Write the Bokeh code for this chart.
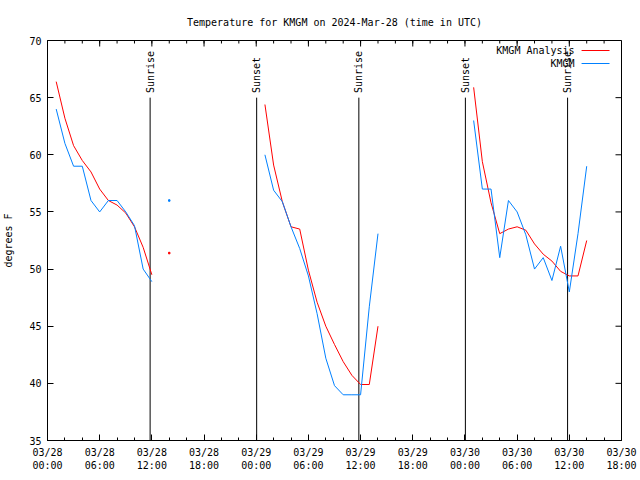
import math
from bokeh.plotting import figure
from bokeh.models import FixedTicker, Label, Range1d
from bokeh.embed import file_html
from bokeh.resources import INLINE

TITLE = "Temperature for KMGM on 2024-Mar-28 (time in UTC)"
FONT = "DejaVu Sans Mono"

# x values are hours since 2024-03-28 00:00 UTC
seg1_hours = [1, 2, 3, 4, 5, 6, 7, 8, 9, 10, 11, 12]
seg1_analysis = [66.4, 63.2, 60.8, 59.5, 58.5, 57.0, 56.0, 55.6, 54.9, 53.7, 51.9, 49.5]
seg1_obs = [64, 61, 59, 59, 56, 55, 56, 56, 55, 53.8, 50, 48.9]

lone_hours = [14]
lone_analysis = [51.4]
lone_obs = [56]

seg2_hours = [25, 26, 27, 28, 29, 30, 31, 32, 33, 34, 35, 36, 37, 38]
seg2_analysis = [64.4, 59.1, 55.9, 53.7, 53.5, 49.9, 47.1, 45.0, 43.4, 41.9, 40.7, 39.9, 39.9, 45.0]
seg2_obs = [60, 56.9, 55.9, 53.7, 51.8, 49.4, 46.1, 42.2, 39.8, 39, 39, 39, 46.7, 53.1]

seg3_hours = [49, 50, 51, 52, 53, 54, 55, 56, 57, 58, 59, 60, 61, 62]
seg3_analysis = [65.9, 59.4, 55.8, 53.1, 53.5, 53.7, 53.4, 52.2, 51.3, 50.7, 49.8, 49.4, 49.4, 52.5]
seg3_obs = [63, 57, 57, 51, 56, 55, 53, 50, 51, 49, 52, 48, 53.1, 59]

event_hours = [11.8, 24.05, 35.8, 48.05, 59.8]
event_names = ["Sunrise", "Sunset", "Sunrise", "Sunset", "Sunrise"]

x_ticks = [0, 6, 12, 18, 24, 30, 36, 42, 48, 54, 60, 66]
x_tick_labels = ["03/28\n00:00", "03/28\n06:00", "03/28\n12:00", "03/28\n18:00",
                 "03/29\n00:00", "03/29\n06:00", "03/29\n12:00", "03/29\n18:00",
                 "03/30\n00:00", "03/30\n06:00", "03/30\n12:00", "03/30\n18:00"]
x_minor = list(range(0, 67, 2))
y_ticks = [35, 40, 45, 50, 55, 60, 65, 70]

series_names = ["KMGM Analysis", "KMGM"]
series_colors = ["#ff0000", "#0080ff"]

XR, YR = (0, 66), (35, 70)
FW, FH = 575.0, 400.0   # frame size in px
FL, FB = 46, 440         # frame left / bottom in page px

p = figure(width=640, height=480, x_range=Range1d(*XR), y_range=Range1d(*YR),
           output_backend="svg", toolbar_location=None, title=TITLE,
           min_border_left=FL, min_border_right=640 - FL - int(FW),
           min_border_top=40, min_border_bottom=40)
p.title.text_font = FONT
p.title.text_font_size = "10px"
p.title.text_font_style = "normal"
p.title.text_color = "black"
p.title.align = "center"
p.title.standoff = 25
p.xgrid.visible = False
p.ygrid.visible = False
p.outline_line_color = "black"
p.outline_line_alpha = 1.0
p.background_fill_color = "white"
p.border_fill_color = "white"

xa = p.xaxis[0]
xa.ticker = FixedTicker(ticks=x_ticks, minor_ticks=x_minor)
xa.major_label_overrides = {t: l for t, l in zip(x_ticks, x_tick_labels)}
ya = p.yaxis[0]
ya.ticker = FixedTicker(ticks=y_ticks, minor_ticks=[])
ya.axis_label = "degrees F"
ya.axis_label_standoff = 12
for ax in (xa, ya):
    ax.major_label_text_font = FONT
    ax.major_label_text_font_size = "10px"
    ax.major_label_text_color = "black"
    ax.axis_label_text_font = FONT
    ax.axis_label_text_font_size = "10px"
    ax.axis_label_text_font_style = "normal"
    ax.axis_label_text_color = "black"
    ax.major_tick_in = 6
    ax.major_tick_out = 0
    ax.minor_tick_in = 3
    ax.minor_tick_out = 0
    ax.major_label_standoff = 6
    ax.axis_line_color = "black"

# mirrored ticks on the top and right borders (gnuplot style)
dx_px = (XR[1] - XR[0]) / FW
dy_px = (YR[1] - YR[0]) / FH
p.segment(x0=x_ticks, y0=[YR[1]] * len(x_ticks), x1=x_ticks,
          y1=[YR[1] - 6 * dy_px] * len(x_ticks), line_color="black", line_width=1)
p.segment(x0=x_minor, y0=[YR[1]] * len(x_minor), x1=x_minor,
          y1=[YR[1] - 3 * dy_px] * len(x_minor), line_color="black", line_width=1)
p.segment(x0=[XR[1]] * len(y_ticks), y0=y_ticks, x1=[XR[1] - 6 * dx_px] * len(y_ticks),
          y1=y_ticks, line_color="black", line_width=1)

# sunrise / sunset markers
for h, name in zip(event_hours, event_names):
    p.segment(x0=[h], y0=[35], x1=[h], y1=[65], line_color="black", line_width=1)
    p.add_layout(Label(x=h, y=65.4, text=name, angle=math.pi / 2, text_align="left",
                       text_baseline="middle", text_font=FONT, text_font_size="10px",
                       text_color="black"))

# data
for hrs, ana, obs in ((seg1_hours, seg1_analysis, seg1_obs),
                      (seg2_hours, seg2_analysis, seg2_obs),
                      (seg3_hours, seg3_analysis, seg3_obs)):
    p.line(hrs, ana, line_color=series_colors[0], line_width=1)
    p.line(hrs, obs, line_color=series_colors[1], line_width=1)
p.scatter(lone_hours, lone_analysis, marker="square", size=1.5, color=series_colors[0])
p.scatter(lone_hours, lone_obs, marker="square", size=1.5, color=series_colors[1])

# legend (text on the left, sample line on the right, as in gnuplot)
def px_to_x(px):
    return XR[0] + (px - FL) * dx_px
def px_to_y(py):
    return YR[0] + (FB - py) * dy_px
for i, (name, col) in enumerate(zip(series_names, series_colors)):
    row = 50 + 13 * i
    p.add_layout(Label(x=px_to_x(574), y=px_to_y(row), text=name, text_align="right",
                       text_baseline="middle", text_font=FONT, text_font_size="10px",
                       text_color="black"))
    p.segment(x0=[px_to_x(581)], y0=[px_to_y(row)], x1=[px_to_x(609)], y1=[px_to_y(row)],
              line_color=col, line_width=1)

open("out.html", "w").write(file_html(p, INLINE))
